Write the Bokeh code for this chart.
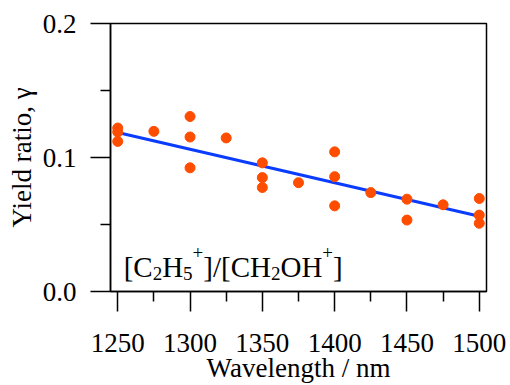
from bokeh.plotting import figure
from bokeh.models import Range1d, FixedTicker, NumeralTickFormatter, ColumnDataSource
from bokeh.core.properties import value
from bokeh.embed import file_html
from bokeh.resources import INLINE

# data
wavelength = [1250, 1250, 1250, 1275, 1300, 1300, 1300, 1325, 1350, 1350, 1350,
              1375, 1400, 1400, 1400, 1425, 1450, 1450, 1475, 1500, 1500, 1500]
ratio = [0.122, 0.119, 0.112, 0.1195, 0.1306, 0.1153, 0.0923, 0.1146, 0.096, 0.085, 0.0776,
         0.0812, 0.1042, 0.0857, 0.0639, 0.0738, 0.0689, 0.0533, 0.0647, 0.0694, 0.057, 0.0509]
fit_x = [1250, 1500]
fit_y = [0.1187, 0.0561]
x_ticks = [1250, 1300, 1350, 1400, 1450, 1500]
x_minor = [1275, 1325, 1375, 1425, 1475]
y_ticks = [0.0, 0.1, 0.2]
y_minor = [0.05, 0.15]

FONT = "Liberation Serif"
DOT = "#FF4D00"
LINE = "#0A3CFF"

p = figure(width=510, height=385, output_backend="svg", toolbar_location=None,
           x_range=Range1d(1245, 1505), y_range=Range1d(0, 0.2),
           min_border_left=110, min_border_right=24, min_border_top=23, min_border_bottom=92)
p.background_fill_color = "white"
p.border_fill_color = "white"
p.grid.visible = False
p.outline_line_color = "black"
p.outline_line_width = 1.5
p.outline_line_alpha = 1.0

p.line(fit_x, fit_y, line_color=LINE, line_width=3)
p.scatter(wavelength, ratio, size=10, fill_color=DOT, line_color=DOT)

p.xaxis[0].ticker = FixedTicker(ticks=x_ticks, minor_ticks=x_minor)
p.yaxis[0].ticker = FixedTicker(ticks=y_ticks, minor_ticks=y_minor)
p.yaxis[0].formatter = NumeralTickFormatter(format="0.0")
p.xaxis[0].axis_label = "Wavelength / nm"
p.yaxis[0].axis_label = "Yield ratio, γ"

for ax in (p.xaxis[0], p.yaxis[0]):
    ax.axis_line_width = 1.5
    ax.major_tick_line_width = 1.5
    ax.minor_tick_line_width = 1.5
    ax.major_tick_in = 0
    ax.major_tick_out = 20
    ax.minor_tick_in = 0
    ax.minor_tick_out = 10
    ax.major_label_text_font = FONT
    ax.major_label_text_font_size = "27px"
    ax.major_label_text_color = "black"
    ax.axis_label_text_font = FONT
    ax.axis_label_text_font_size = "27px"
    ax.axis_label_text_font_style = "normal"
    ax.axis_label_text_color = "black"

p.xaxis[0].major_label_standoff = 22
p.xaxis[0].axis_label_standoff = -2
p.yaxis[0].major_label_standoff = 14
p.yaxis[0].axis_label_standoff = 3

# annotation [C2H5+]/[CH2OH+] built from pieces
ax0 = 1254.1
main = ColumnDataSource(dict(x=[ax0] * 5, y=[0.0185] * 5,
                             text=["[C", "H", "]/[CH", "OH", "]"],
                             dx=[0, 38.5, 79.6, 156.8, 209.4]))
subs = ColumnDataSource(dict(x=[ax0] * 3, y=[0.0133] * 3, text=["2", "5", "2"],
                             dx=[29.0, 59.4, 147.3]))
sups = ColumnDataSource(dict(x=[ax0] * 2, y=[0.029] * 2, text=["+", "+"],
                             dx=[68.9, 198.7]))
for src, fs in ((main, "29px"), (subs, "19px"), (sups, "19px")):
    p.text(x="x", y="y", text="text", x_offset="dx", source=src,
           text_font=value(FONT), text_font_size=fs, text_color="black",
           text_align="left", text_baseline="alphabetic")

open("out.html", "w").write(file_html(p, INLINE))
